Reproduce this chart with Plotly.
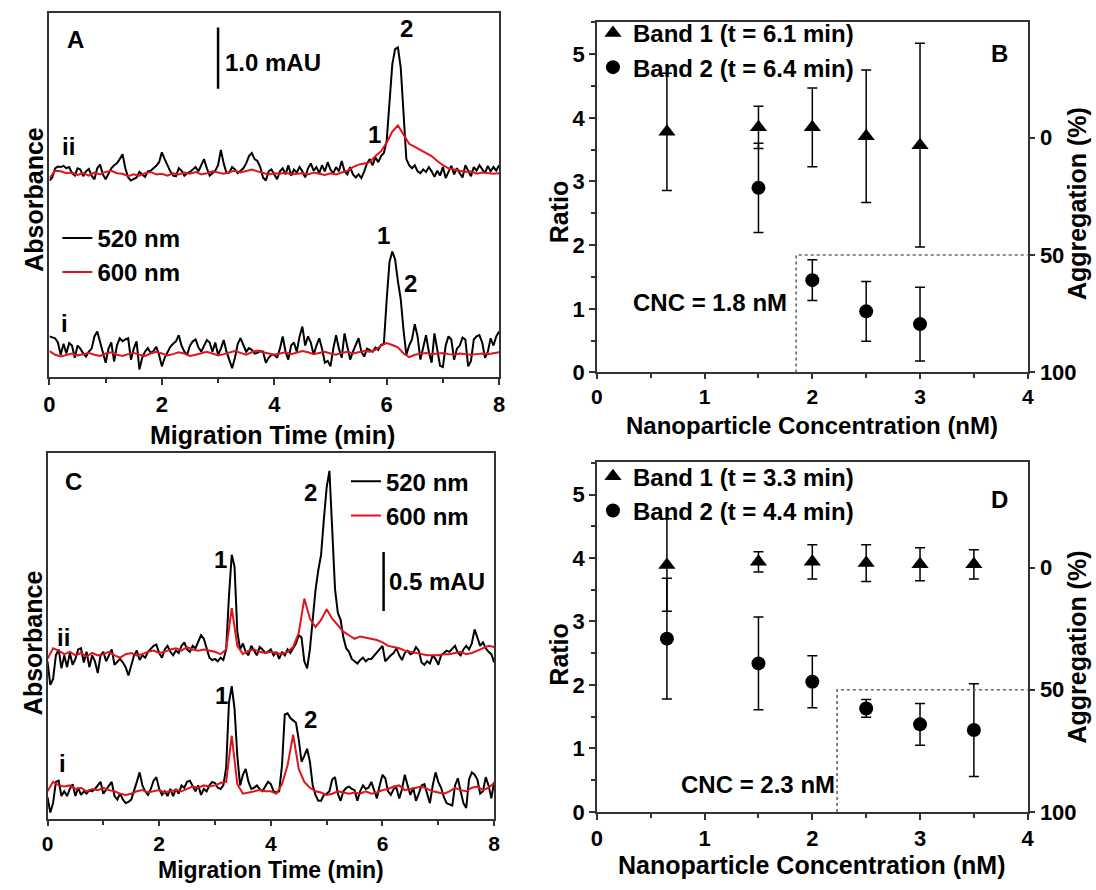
import plotly.graph_objects as go

W, H = 1096, 890
def px(x): return x / W
def py(y): return 1 - y / H

FONT = "Liberation Sans, Arial, sans-serif"

# ---------------- sampling grids (min) ----------------
time_fine = [round(i * 0.05, 2) for i in range(161)]
time_coarse = [round(i * 0.1, 1) for i in range(81)]

# ---------------- Panel A: electropherograms (mAU, relative to baseline) ----------------
a_ii_520 = [
    -0.10, -0.05, 0.10, 0.13, 0.12, 0.14, 0.10, 0.12, 0.02, -0.02,
    0.10, 0.08, -0.03, 0.05, 0.09, -0.02, -0.08, 0.10, 0.16, 0.00,
    -0.08, 0.02, 0.10, 0.15, 0.18, 0.25, 0.33, 0.10, -0.05, -0.10,
    -0.08, -0.05, 0.04, 0.00, -0.04, 0.05, 0.06, 0.10, 0.14, 0.20,
    0.36, 0.25, 0.15, 0.05, -0.02, -0.03, 0.10, 0.06, -0.02, 0.02,
    0.04, 0.08, 0.12, 0.05, 0.15, 0.25, 0.10, -0.02, 0.02, 0.06,
    0.15, 0.40, 0.18, 0.02, 0.03, 0.12, 0.08, 0.02, 0.06, 0.10,
    0.18, 0.30, 0.35, 0.25, 0.22, 0.12, -0.05, -0.10, 0.05, 0.08,
    0.00, -0.08, 0.05, 0.10, 0.00, 0.15, -0.02, 0.08, 0.03, 0.12,
    0.05, -0.05, 0.10, 0.18, 0.06, 0.12, 0.02, 0.15, 0.05, 0.20,
    0.08, 0.02, 0.12, 0.05, 0.22, 0.05, 0.00, 0.12, 0.00, -0.05,
    0.00, -0.06, 0.05, 0.18, 0.25, 0.15, 0.28, 0.20, 0.30, 0.35,
    0.55, 1.20, 1.80, 2.05, 2.08, 1.75, 1.00, 0.25, 0.15, 0.10,
    0.15, 0.05, 0.02, 0.08, 0.04, 0.12, 0.05, -0.04, 0.06, -0.02,
    0.12, -0.06, 0.04, 0.14, 0.00, 0.10, 0.02, -0.05, 0.15, 0.05,
    -0.03, 0.12, 0.06, 0.15, 0.08, 0.02, 0.14, 0.05, 0.12, 0.06,
    0.15]
a_ii_600 = [
    -0.06, 0.06, 0.05, 0.02, 0.03, -0.01, 0.02, -0.02, 0.03, 0.00,
    0.04, 0.06, 0.02, 0.01, -0.03, 0.00, -0.02, 0.02, 0.04, 0.00,
    0.01, -0.02, 0.02, 0.00, 0.03, 0.01, 0.04, 0.00, 0.02, 0.05,
    0.03, 0.01, 0.04, 0.06, 0.03, 0.05, 0.08, 0.05, 0.02, 0.00,
    0.02, 0.01, 0.03, 0.00, 0.01, 0.02, 0.00, 0.03, 0.01, -0.01,
    0.02, 0.00, 0.03, 0.06, 0.12, 0.16, 0.18, 0.20, 0.30, 0.38,
    0.52, 0.70, 0.80, 0.65, 0.50, 0.45, 0.40, 0.36, 0.30, 0.22,
    0.15, 0.10, 0.08, 0.06, 0.04, 0.05, 0.01, 0.03, 0.02, 0.01,
    0.02]
a_i_520 = [
    0.30, 0.28, 0.27, 0.20, 0.00, 0.18, 0.02, 0.19, 0.15, -0.05,
    0.15, 0.10, 0.02, -0.03, 0.05, 0.10, 0.30, 0.38, 0.22, 0.05,
    -0.13, 0.10, 0.20, -0.11, 0.15, 0.27, 0.22, 0.25, 0.27, -0.08,
    0.10, 0.22, -0.24, -0.05, 0.05, 0.11, 0.03, 0.06, 0.13, 0.00,
    -0.19, -0.05, 0.05, 0.13, 0.18, 0.22, 0.32, 0.15, 0.05, 0.00,
    0.15, 0.22, 0.25, 0.12, 0.05, 0.16, 0.24, 0.20, 0.05, 0.20,
    0.00, 0.10, 0.24, 0.05, -0.10, -0.22, -0.05, 0.18, 0.27, 0.15,
    0.05, 0.11, 0.08, 0.02, 0.03, 0.06, 0.05, -0.13, -0.05, 0.00,
    0.00, -0.05, 0.10, 0.30, 0.05, -0.08, 0.15, 0.20, 0.05, 0.30,
    0.46, 0.15, 0.30, 0.20, 0.00, 0.15, 0.27, 0.10, -0.13, -0.10,
    -0.19, 0.10, 0.32, 0.10, -0.05, 0.35, 0.15, -0.08, 0.05, 0.15,
    0.27, 0.05, -0.03, 0.10, 0.08, 0.05, 0.12, 0.08, 0.16, 0.18,
    0.90, 1.52, 1.69, 1.56, 1.20, 0.91, 0.40, 0.00, 0.15, 0.25,
    0.50, 0.30, -0.08, 0.10, 0.32, 0.05, -0.13, 0.35, 0.05, -0.18,
    -0.20, 0.15, 0.30, 0.25, -0.08, 0.10, 0.15, 0.28, 0.25, -0.19,
    -0.10, 0.25, 0.30, 0.32, 0.20, -0.05, 0.05, 0.27, 0.15, 0.30,
    0.38]
a_i_600 = [
    0.06, 0.00, -0.03, 0.00, 0.02, -0.01, 0.01, 0.03, 0.00, -0.02,
    0.02, 0.04, 0.00, -0.02, 0.01, 0.03, 0.00, -0.02, 0.02, 0.05,
    0.02, -0.01, 0.01, 0.04, 0.02, -0.02, 0.00, 0.03, 0.05, 0.02,
    -0.01, 0.01, 0.04, 0.06, 0.03, 0.00, 0.04, 0.07, 0.04, 0.02,
    0.00, 0.02, 0.04, 0.01, 0.03, 0.06, 0.04, 0.01, 0.03, 0.05,
    0.02, 0.00, 0.03, 0.05, 0.02, 0.04, 0.06, 0.05, 0.08, 0.15,
    0.19, 0.16, 0.12, 0.02, -0.04, 0.00, 0.02, 0.03, 0.01, 0.02,
    0.03, 0.01, 0.00, 0.02, 0.01, 0.00, 0.01, 0.02, 0.01, 0.03,
    0.04]

# ---------------- Panel C: electropherograms ----------------
c_ii_520 = [
    -0.05, -0.25, -0.20, 0.00, 0.05, -0.11, 0.00, -0.10, 0.02, -0.08,
    -0.03, 0.05, 0.06, -0.06, 0.03, -0.10, 0.00, -0.05, -0.15, 0.00,
    0.03, -0.05, 0.00, 0.05, -0.08, -0.05, -0.03, -0.06, -0.10, -0.17,
    -0.08, 0.00, 0.04, -0.04, 0.00, -0.02, 0.03, 0.06, 0.08, 0.09,
    0.02, -0.02, 0.05, 0.08, 0.03, 0.00, 0.04, 0.02, 0.08, 0.11,
    0.05, 0.03, 0.08, 0.06, 0.12, 0.17, 0.14, 0.05, -0.02, -0.04,
    -0.03, -0.05, -0.02, -0.04, 0.05, 0.50, 0.85, 0.75, 0.20, 0.05,
    0.10, 0.03, 0.00, 0.08, 0.04, 0.00, 0.07, 0.05, 0.02, 0.03,
    0.05, 0.00, 0.03, -0.03, 0.03, 0.00, 0.05, 0.02, 0.06, 0.10,
    0.17, 0.15, -0.05, -0.11, 0.05, 0.30, 0.55, 0.72, 0.85, 1.15,
    1.42, 1.56, 1.05, 0.56, 0.36, 0.30, 0.15, 0.06, 0.03, -0.03,
    -0.05, -0.07, -0.04, -0.02, -0.05, -0.03, -0.03, 0.00, 0.03, 0.06,
    0.08, -0.05, -0.02, 0.00, 0.02, 0.06, 0.00, -0.04, 0.02, 0.04,
    0.01, 0.02, 0.07, 0.04, -0.06, -0.08, -0.05, -0.07, 0.00, -0.03,
    -0.08, 0.00, 0.02, 0.04, 0.03, 0.06, 0.08, 0.02, 0.00, 0.05,
    0.08, 0.05, 0.10, 0.22, 0.15, 0.08, 0.11, 0.06, 0.03, 0.01,
    -0.06]
c_ii_600 = [
    -0.03, 0.06, 0.04, 0.01, 0.03, 0.00, 0.02, -0.01, 0.02, 0.00,
    0.01, 0.03, 0.00, -0.02, 0.01, 0.02, 0.00, 0.01, 0.03, 0.04,
    0.02, 0.03, 0.05, 0.06, 0.04, 0.07, 0.05, 0.04, 0.05, 0.04,
    0.03, 0.01, 0.05, 0.40, 0.08, 0.01, 0.04, 0.05, 0.03, 0.02,
    0.03, 0.02, 0.01, 0.03, 0.07, 0.19, 0.48, 0.31, 0.24, 0.30,
    0.39, 0.31, 0.25, 0.20, 0.17, 0.14, 0.16, 0.15, 0.14, 0.13,
    0.11, 0.08, 0.07, 0.06, 0.04, 0.03, 0.02, 0.01, 0.00, 0.00,
    0.00, 0.01, 0.01, 0.02, 0.03, 0.01, 0.02, 0.04, 0.06, 0.08,
    0.07]
c_i_520 = [
    -0.05, -0.18, -0.10, 0.08, 0.09, -0.04, 0.00, -0.04, 0.02, 0.06,
    -0.04, 0.03, -0.03, 0.00, -0.02, 0.01, 0.00, 0.02, 0.05, 0.08,
    -0.02, 0.01, 0.04, 0.08, -0.04, -0.07, -0.02, -0.07, -0.10, -0.09,
    -0.07, 0.00, 0.08, 0.16, 0.05, 0.00, -0.03, 0.02, 0.09, 0.12,
    0.02, -0.03, 0.00, -0.04, 0.02, -0.04, 0.02, -0.02, 0.05, 0.03,
    0.08, 0.09, 0.04, 0.00, 0.05, -0.03, 0.02, 0.00, 0.05, 0.08,
    0.07, 0.03, 0.02, 0.05, 0.20, 0.75, 0.89, 0.70, 0.30, 0.05,
    0.14, 0.19, 0.08, 0.02, 0.03, 0.05, 0.02, 0.00, 0.04, 0.08,
    0.06, 0.00, -0.01, 0.00, 0.22, 0.65, 0.66, 0.62, 0.60, 0.58,
    0.44, 0.25, 0.30, 0.36, 0.25, 0.05, -0.03, -0.08, -0.08, -0.03,
    -0.02, 0.00, 0.10, 0.12, -0.02, -0.08, 0.00, 0.03, 0.04, 0.02,
    0.01, -0.08, 0.00, 0.05, 0.02, 0.03, 0.08, 0.00, -0.06, 0.05,
    0.14, 0.11, 0.00, -0.03, 0.02, 0.03, -0.06, 0.02, 0.14, 0.05,
    -0.03, 0.03, -0.08, -0.02, 0.05, 0.06, -0.03, -0.10, 0.05, 0.16,
    0.08, 0.03, -0.05, -0.10, -0.11, -0.12, 0.05, 0.11, 0.00, -0.10,
    -0.14, 0.10, 0.16, 0.14, 0.10, -0.02, 0.00, 0.12, 0.05, -0.06,
    0.08]
c_i_600 = [
    0.00, 0.08, 0.05, 0.04, 0.05, 0.02, 0.03, 0.00, 0.02, 0.01,
    0.03, 0.01, 0.00, -0.02, -0.03, -0.02, 0.00, 0.01, -0.01, 0.00,
    0.01, -0.01, 0.00, 0.01, 0.00, 0.02, 0.04, 0.03, 0.05, 0.04,
    0.05, 0.07, 0.08, 0.47, 0.06, -0.02, -0.01, 0.00, 0.01, 0.00,
    0.00, -0.02, 0.06, 0.22, 0.48, 0.19, 0.08, 0.03, 0.00, -0.01,
    -0.03, -0.02, 0.00, -0.01, -0.02, -0.01, -0.02, 0.00, -0.02, -0.01,
    0.01, 0.02, 0.04, 0.05, 0.01, 0.02, 0.03, 0.04, 0.02, 0.00,
    -0.01, -0.02, 0.00, 0.03, 0.01, 0.00, 0.03, 0.04, 0.01, 0.03,
    0.07]

for arr in (a_ii_520, a_i_520, c_ii_520, c_i_520):
    assert len(arr) == len(time_fine), len(arr)
for arr in (a_ii_600, a_i_600, c_ii_600, c_i_600):
    assert len(arr) == len(time_coarse), len(arr)

# ---------------- Panel B data ----------------
b_band1_conc = [0.65, 1.5, 2.0, 2.5, 3.0]
b_band1_ratio = [3.78, 3.85, 3.85, 3.71, 3.57]
b_band1_err = [0.92, 0.33, 0.62, 1.04, 1.60]
b_band2_conc = [1.5, 2.0, 2.5, 3.0]
b_band2_ratio = [2.90, 1.45, 0.96, 0.76]
b_band2_err = [0.70, 0.32, 0.47, 0.58]
b_cnc = 1.85            # nM, dotted CNC marker
b_ratio_0pct = 3.69     # ratio corresponding to 0 % aggregation

# ---------------- Panel D data ----------------
d_band1_conc = [0.65, 1.5, 2.0, 2.5, 3.0, 3.5]
d_band1_ratio = [3.89, 3.94, 3.94, 3.92, 3.90, 3.90]
d_band1_err = [0.73, 0.16, 0.27, 0.29, 0.26, 0.23]
d_band2_conc = [0.65, 1.5, 2.0, 2.5, 3.0, 3.5]
d_band2_ratio = [2.73, 2.34, 2.05, 1.63, 1.38, 1.29]
d_band2_err = [0.95, 0.73, 0.41, 0.14, 0.33, 0.73]
d_cnc = 2.23
d_ratio_0pct = 3.85

aggregation_marks = [100, 50, 50]   # % aggregation path of the dotted CNC guide

# ---------------- layout geometry ----------------
A_Y_MAX = 5.968      # mAU shown on panel A
C_Y_MAX = 3.092      # mAU shown on panel C
A_OFF_II, A_OFF_I = 3.323, 0.371
C_OFF_II, C_OFF_I = 1.383, 0.233
RATIO_MAX = 5.51
X_MAX_CONC = 4.0

BLACK = "black"
RED = "#e0141c"

fig = go.Figure()

def trace_line(x, y, off, color, xa, ya, name, legend, show):
    fig.add_trace(go.Scatter(
        x=x, y=[v + off for v in y], mode="lines",
        line=dict(color=color, width=2), name=name,
        xaxis=xa, yaxis=ya, legend=legend, showlegend=show, hoverinfo="skip"))

# Panel A
trace_line(time_fine, a_ii_520, A_OFF_II, BLACK, "x", "y", "520 nm", "legend", True)
trace_line(time_fine, a_i_520, A_OFF_I, BLACK, "x", "y", "520 nm", "legend", False)
trace_line(time_coarse, a_ii_600, A_OFF_II, RED, "x", "y", "600 nm", "legend", True)
trace_line(time_coarse, a_i_600, A_OFF_I, RED, "x", "y", "600 nm", "legend", False)
# Panel C
trace_line(time_fine, c_ii_520, C_OFF_II, BLACK, "x3", "y4", "520 nm", "legend3", True)
trace_line(time_fine, c_i_520, C_OFF_I, BLACK, "x3", "y4", "520 nm", "legend3", False)
trace_line(time_coarse, c_ii_600, C_OFF_II, RED, "x3", "y4", "600 nm", "legend3", True)
trace_line(time_coarse, c_i_600, C_OFF_I, RED, "x3", "y4", "600 nm", "legend3", False)

def ratio_panel(cnc, b1x, b1y, b1e, b2x, b2y, b2e, xa, ya, ya_right, legend, lab1, lab2):
    # dotted guide drawn on the right-hand (aggregation %) axis
    fig.add_trace(go.Scatter(
        x=[cnc, cnc, X_MAX_CONC], y=aggregation_marks, mode="lines",
        line=dict(color="#666", width=1.6, dash="dot"),
        xaxis=xa, yaxis=ya_right, showlegend=False, hoverinfo="skip"))
    fig.add_trace(go.Scatter(
        x=b1x, y=b1y, mode="markers", name=lab1,
        marker=dict(symbol="triangle-up", size=15, color="black"),
        error_y=dict(type="data", array=b1e, color="black", thickness=1.5, width=5),
        xaxis=xa, yaxis=ya, legend=legend))
    fig.add_trace(go.Scatter(
        x=b2x, y=b2y, mode="markers", name=lab2,
        marker=dict(symbol="circle", size=14, color="black"),
        error_y=dict(type="data", array=b2e, color="black", thickness=1.5, width=5),
        xaxis=xa, yaxis=ya, legend=legend))

ratio_panel(b_cnc, b_band1_conc, b_band1_ratio, b_band1_err,
            b_band2_conc, b_band2_ratio, b_band2_err, "x2", "y2", "y3", "legend2",
            "Band 1 (t = 6.1 min)", "Band 2 (t = 6.4 min)")
ratio_panel(d_cnc, d_band1_conc, d_band1_ratio, d_band1_err,
            d_band2_conc, d_band2_ratio, d_band2_err, "x4", "y5", "y6", "legend4",
            "Band 1 (t = 3.3 min)", "Band 2 (t = 4.4 min)")

# ---------------- axes ----------------
AXC = "#333"
TICKFONT = dict(family=FONT, size=22, color="black", weight="bold")
TICKFONT_S = dict(family=FONT, size=21, color="black", weight="bold")

def ax(**kw):
    d = dict(showline=True, linecolor=AXC, linewidth=1.5, mirror=True,
             ticks="outside", ticklen=6, tickwidth=1.5, tickcolor=AXC,
             tickfont=TICKFONT, showgrid=False, zeroline=False, fixedrange=True)
    d.update(kw)
    return d

def minor(dt):
    return dict(dtick=dt, ticks="outside", ticklen=4, tickwidth=1.5, tickcolor=AXC)

xA = [px(44), px(499)]
yA = [py(383), py(13)]
xC = [px(42), px(494)]
yC = [py(831), py(460)]
xB = [px(598), px(1034)]
yB = [py(378), py(22)]
yD = [py(824), py(469)]

def agg_range(r0):
    return [100, 100 * (1 - RATIO_MAX / r0)]

RIGHTFONT = dict(family=FONT, size=22, color="black", weight="bold")

fig.update_layout(
    width=W, height=H, margin=dict(l=0, r=0, t=0, b=0),
    paper_bgcolor="white", plot_bgcolor="white",
    font=dict(family=FONT, size=22, color="black"),
    xaxis=ax(domain=xA, anchor="y", range=[0, 8], tick0=0, dtick=2, minor=minor(1)),
    yaxis=ax(domain=yA, anchor="x", range=[0, A_Y_MAX], ticks="", showticklabels=False),
    xaxis2=ax(domain=xB, anchor="y2", range=[0, X_MAX_CONC], tick0=0, dtick=1, minor=minor(0.5),
              tickfont=TICKFONT_S, ticklen=5),
    yaxis2=ax(domain=yB, anchor="x2", range=[0, RATIO_MAX], tick0=0, dtick=1, minor=minor(0.5)),
    yaxis3=ax(anchor="x2", overlaying="y2", side="right", mirror=False,
              range=agg_range(b_ratio_0pct), tickvals=[0, 50, 100], tickfont=RIGHTFONT),
    xaxis3=ax(domain=xC, anchor="y4", range=[0, 8], tick0=0, dtick=2, minor=minor(1),
              tickfont=TICKFONT_S, ticklen=5),
    yaxis4=ax(domain=yC, anchor="x3", range=[0, C_Y_MAX], ticks="", showticklabels=False),
    xaxis4=ax(domain=xB, anchor="y5", range=[0, X_MAX_CONC], tick0=0, dtick=1, minor=minor(0.5)),
    yaxis5=ax(domain=yD, anchor="x4", range=[0, RATIO_MAX], tick0=0, dtick=1, minor=minor(0.5)),
    yaxis6=ax(anchor="x4", overlaying="y5", side="right", mirror=False,
              range=agg_range(d_ratio_0pct), tickvals=[0, 50, 100], tickfont=RIGHTFONT),
)

LEGFONT = dict(family=FONT, size=24, color="black", weight="bold")
def leg(x, y):
    return dict(x=px(x), y=py(y), xanchor="left", yanchor="top", bgcolor="rgba(0,0,0,0)",
                borderwidth=0, font=LEGFONT, tracegroupgap=0, itemclick=False)

fig.update_layout(legend=leg(52, 219), legend2=leg(594, 11),
                  legend3=leg(344, 466), legend4=leg(594, 461))

# ---------------- scale bars ----------------
fig.add_shape(type="line", xref="x", yref="y", x0=3.0, x1=3.0, y0=4.726, y1=4.726 + 1.0,
              line=dict(color="black", width=2.5))
fig.add_shape(type="line", xref="x3", yref="y4", x0=6.02, x1=6.02, y0=1.758, y1=1.758 + 0.5,
              line=dict(color="black", width=2.5))

# ---------------- annotations ----------------
ann = []
def T(text, x, y, size=24, angle=0, xanchor="center", xref="paper", yref="paper"):
    if xref == "paper":
        x, y = px(x), py(y)
    ann.append(dict(text="<b>%s</b>" % text, x=x, y=y, xref=xref, yref=yref,
                    showarrow=False, textangle=angle, xanchor=xanchor, yanchor="middle",
                    font=dict(family=FONT, size=size, color="black")))

TS = 25  # axis-title size
# Panel A
T("A", 70, 40)
T("1.0 mAU", 220, 63, xanchor="left")
T("2", 405, 29)
T("1", 373, 137)
T("ii", 63, 149)
T("1", 382, 239)
T("2", 409, 288)
T("i", 59, 328)
T("Absorbance", 28, 202, size=TS, angle=-90)
T("Migration Time (min)", 270, 441, size=TS)
# Panel C
T("C", 68, 489)
T("2", 308, 500)
T("1", 217, 568)
T("0.5 mAU", 386, 590, xanchor="left")
T("ii", 58, 647)
T("1", 218, 706)
T("2", 308, 730)
T("i", 57, 775)
T("Absorbance", 28, 652, size=TS, angle=-90)
T("Migration Time (min)", 268, 883, size=23)
# Panel B
T("B", 1005, 54)
T("CNC = 1.8 nM", 1.05, 1.10, xref="x2", yref="y2")
T("Ratio", 560, 215, size=TS, angle=-90)
T("Aggregation (%)", 1084, 207, size=TS, angle=-90)
T("Nanoparticle Concentration (nM)", 816, 432, size=24)
# Panel D
T("D", 1005, 507)
T("CNC = 2.3 nM", 1.5, 0.43, xref="x4", yref="y5")
T("Ratio", 560, 664, size=TS, angle=-90)
T("Aggregation (%)", 1084, 657, size=TS, angle=-90)
T("Nanoparticle Concentration (nM)", 816, 878, size=TS)

fig.update_layout(annotations=ann)

fig.write_html("out.html")
